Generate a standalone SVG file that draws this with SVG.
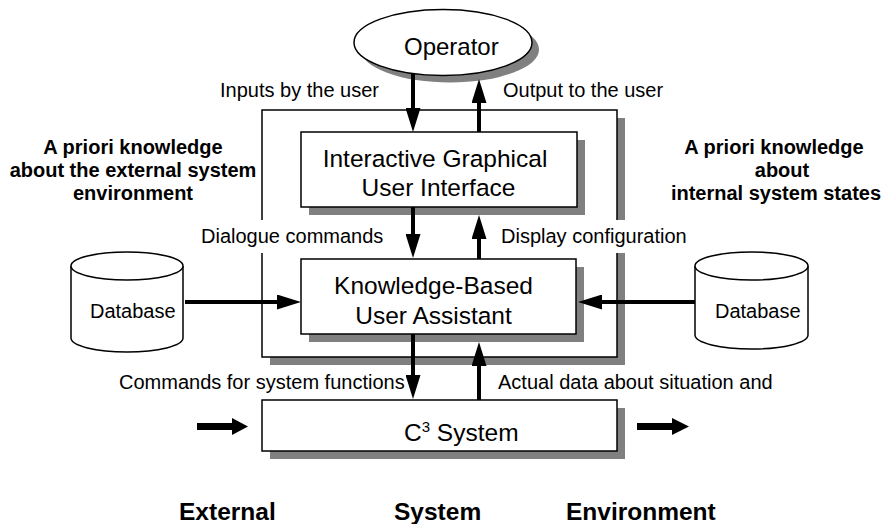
<svg xmlns="http://www.w3.org/2000/svg" width="883" height="524" viewBox="0 0 883 524">
<style>
.box{fill:#fff;stroke:#000;stroke-width:1.5}
.sh{fill:#808080;stroke:none}
.t{font-family:"Liberation Sans",Arial,Helvetica,sans-serif;fill:#000}
.lbl{font-size:20px}
.big{font-size:24.5px}
.b{font-weight:bold;font-size:20px}
.bb{font-weight:bold;font-size:24.5px}
.arr{stroke:#000;stroke-width:4;fill:none;marker-end:url(#ah)}
.bg{fill:#fff;stroke:none}
.db{fill:#fff;stroke:#000;stroke-width:1.5}
</style>
<defs>
<marker id="ah" markerUnits="userSpaceOnUse" markerWidth="24" markerHeight="15" refX="4" refY="7.5" orient="auto" viewBox="0 0 24 15">
<path d="M0,0 L24,7.5 L0,15 Z" fill="#000"/>
</marker>
</defs>
<rect width="883" height="524" fill="#fff"/>

<g id="system-boundary">
<rect class="sh" x="270" y="118" width="355" height="247"/>
<rect class="box" x="262" y="110" width="355" height="247"/>
</g>

<g id="operator">
<ellipse class="sh" cx="450" cy="49.5" rx="89" ry="33"/>
<ellipse class="box" cx="443" cy="42.5" rx="89" ry="33"/>
<text class="t" x="404" y="55" font-size="24">Operator</text>
</g>

<g id="gui">
<rect class="sh" x="309" y="140" width="276" height="75"/>
<rect class="box" x="301" y="132" width="276" height="75"/>
<text class="t big" x="435" y="167" text-anchor="middle">Interactive Graphical</text>
<text class="t big" x="438.5" y="196" text-anchor="middle">User Interface</text>
</g>

<g id="kbua">
<rect class="sh" x="309" y="267" width="275" height="75"/>
<rect class="box" x="301" y="259" width="275" height="75"/>
<text class="t big" x="433.5" y="294" text-anchor="middle">Knowledge-Based</text>
<text class="t big" x="433.5" y="324" text-anchor="middle">User Assistant</text>
</g>

<g id="c3">
<rect class="sh" x="270" y="408" width="355" height="51"/>
<rect class="box" x="262" y="400" width="355" height="51"/>
<text class="t big" x="404" y="441">C<tspan font-size="15" dy="-9">3</tspan><tspan dy="9"> System</tspan></text>
</g>

<g id="db-left">
<path class="db" d="M71,266 L71,338 A56,14 0 0 0 183,338 L183,266"/>
<ellipse class="db" cx="127" cy="266" rx="56" ry="14"/>
<text class="t lbl" x="90" y="318">Database</text>
</g>

<g id="db-right">
<path class="db" d="M695,266 L695,335 A56.5,14 0 0 0 808,335 L808,266"/>
<ellipse class="db" cx="751.5" cy="266" rx="56.5" ry="14"/>
<text class="t lbl" x="715" y="318">Database</text>
</g>

<g id="knowledge-left">
<text class="t b" x="133" y="154" text-anchor="middle">A priori knowledge</text>
<text class="t b" x="133" y="177" text-anchor="middle">about the external system</text>
<text class="t b" x="133" y="200" text-anchor="middle">environment</text>
</g>

<g id="knowledge-right">
<text class="t b" x="774" y="154" text-anchor="middle">A priori knowledge</text>
<text class="t b" x="782" y="177" text-anchor="middle">about</text>
<text class="t b" x="776" y="200" text-anchor="middle">internal system states</text>
</g>

<g id="environment-labels">
<text class="t bb" x="179" y="520">External</text>
<text class="t bb" x="394" y="520">System</text>
<text class="t bb" x="566" y="520">Environment</text>
</g>

<g id="connectors">
<line class="arr" x1="413" y1="74" x2="413" y2="112"/>
<line class="arr" x1="479" y1="132" x2="479" y2="99"/>
<line class="arr" x1="413" y1="207" x2="413" y2="238"/>
<line class="arr" x1="479" y1="259" x2="479" y2="235"/>
<line class="arr" x1="413" y1="334" x2="413" y2="379"/>
<line class="arr" x1="479" y1="400" x2="479" y2="362"/>
<line class="arr" x1="185" y1="302" x2="281" y2="302"/>
<line class="arr" x1="695" y1="302" x2="598" y2="302"/>
<polygon points="197,423 232,423 232,418 248,426.5 232,435 232,430 197,430" fill="#000"/>
<polygon points="637,423 672,423 672,418 689,426.5 672,435 672,430 637,430" fill="#000"/>
<text class="t lbl" x="220" y="97">Inputs by the user</text>
<text class="t lbl" x="503" y="97">Output to the user</text>
<rect class="bg" x="199" y="220" width="185" height="33"/>
<text class="t lbl" x="201" y="243">Dialogue commands</text>
<rect class="bg" x="499" y="220" width="188" height="33"/>
<text class="t lbl" x="501" y="243">Display configuration</text>
<text class="t lbl" x="119" y="389">Commands for system functions</text>
<text class="t lbl" x="498" y="389">Actual data about situation and</text>
</g>
</svg>
